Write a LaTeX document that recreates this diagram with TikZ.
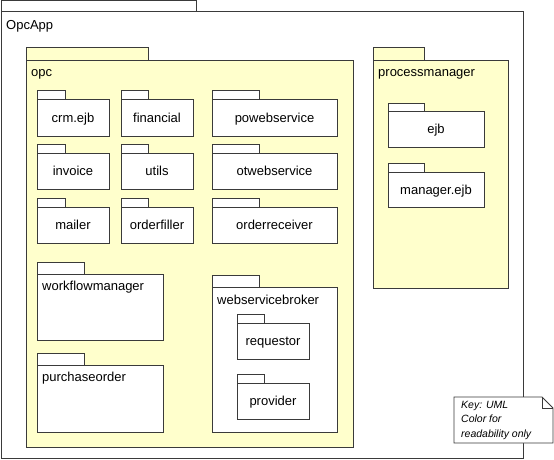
\documentclass[tikz,border=0pt]{standalone}
\usepackage{fontspec}
\setmainfont{Liberation Sans}
\definecolor{pkgyellow}{HTML}{FFFFCC}
\definecolor{linec}{HTML}{3A3A3A}
\newcommand\pkg[8]{%
  \node[pkgtab,fill=#8,minimum width={#4pt-#2pt},minimum height={#5pt-#3pt}] (#1tab) at (#2,#3) {};
  \node[pkgbody,fill=#8,minimum width={#6pt-#2pt},minimum height={#7pt-#5pt}] (#1) at (#2,#5) {};
}
\begin{document}
\begin{tikzpicture}[x=1pt,y=-1pt,
  pkgtab/.style={draw=linec,line width=1pt,inner sep=0pt,outer sep=0pt,anchor=north west},
  pkgbody/.style={draw=linec,line width=1pt,inner sep=0pt,outer sep=0pt,anchor=north west},
  lbl/.style={inner sep=0pt,anchor=base,font=\fontsize{13}{15}\selectfont},
  tl/.style={lbl,anchor=base west},
  shadowed/.style={preaction={fill=black!45,transform canvas={xshift=1.2pt,yshift=-1.2pt}}}
]
\useasboundingbox (0,0) rectangle (554,460);
% outer package
\pkg{opcapp}{1}{1}{196}{12}{523}{458}{white}
\node[tl] (opcapp-l) at ([xshift=5pt,yshift=-18pt]opcapp.north west) {OpcApp};
% opc package
\node[pkgtab,fill=pkgyellow,minimum width=122pt,minimum height=13pt] (opctab) at (26,48) {};
\node[pkgbody,fill=pkgyellow,shadowed,minimum width=327pt,minimum height=386pt] (opc) at (26,61) {};
\node[tl] (opc-l) at ([xshift=5pt,yshift=-15.5pt]opc.north west) {opc};
% processmanager package
\node[pkgtab,fill=pkgyellow,minimum width=51pt,minimum height=13pt] (pmtab) at (373,48) {};
\node[pkgbody,fill=pkgyellow,shadowed,minimum width=135pt,minimum height=227pt] (pm) at (373,61) {};
\node[tl] (pm-l) at ([xshift=5pt,yshift=-15.5pt]pm.north west) {processmanager};
% small packages in opc
\pkg{crmejb}{37}{90}{65}{99}{109}{136}{white}
\pkg{financial}{121}{90}{148}{99}{193}{136}{white}
\pkg{powebservice}{212}{90}{259}{99}{337}{136}{white}
\pkg{invoice}{37}{144}{65}{153}{109}{189}{white}
\pkg{utils}{121}{144}{148}{153}{193}{189}{white}
\pkg{otwebservice}{212}{144}{259}{153}{337}{189}{white}
\pkg{mailer}{37}{198}{65}{207}{109}{243}{white}
\pkg{orderfiller}{121}{198}{148}{207}{193}{243}{white}
\pkg{orderreceiver}{212}{198}{259}{207}{337}{243}{white}
\node[lbl] (crmejb-l) at ([yshift=-4.6pt]crmejb.center) {crm.ejb};
\node[lbl] (financial-l) at ([yshift=-4.6pt]financial.center) {financial};
\node[lbl] (powebservice-l) at ([yshift=-4.6pt]powebservice.center) {powebservice};
\node[lbl] (invoice-l) at ([yshift=-4.6pt]invoice.center) {invoice};
\node[lbl] (utils-l) at ([yshift=-4.6pt]utils.center) {utils};
\node[lbl] (otwebservice-l) at ([yshift=-4.6pt]otwebservice.center) {otwebservice};
\node[lbl] (mailer-l) at ([yshift=-4.6pt]mailer.center) {mailer};
\node[lbl] (orderfiller-l) at ([yshift=-4.6pt]orderfiller.center) {orderfiller};
\node[lbl] (orderreceiver-l) at ([yshift=-4.6pt]orderreceiver.center) {orderreceiver};
% larger packages
\pkg{wfm}{37}{262}{84}{274}{163}{340}{white}
\node[tl] (wfm-l) at ([xshift=5pt,yshift=-16pt]wfm.north west) {workflowmanager};
\pkg{po}{37}{353}{84}{365}{163}{432}{white}
\node[tl] (po-l) at ([xshift=5pt,yshift=-16.5pt]po.north west) {purchaseorder};
\pkg{wsb}{212}{275}{259}{287}{337}{432}{white}
\node[tl] (wsb-l) at ([xshift=5pt,yshift=-17.5pt]wsb.north west) {webservicebroker};
\pkg{requestor}{237}{314}{264}{323}{309}{359}{white}
\node[lbl] (requestor-l) at ([yshift=-4.6pt]requestor.center) {requestor};
\pkg{provider}{237}{374}{264}{383}{309}{419}{white}
\node[lbl] (provider-l) at ([yshift=-4.6pt]provider.center) {provider};
% processmanager contents
\pkg{ejb}{388}{103}{424}{111}{484}{147}{white}
\node[lbl] (ejb-l) at ([yshift=-4.6pt]ejb.center) {ejb};
\pkg{managerejb}{388}{163}{424}{172}{484}{207}{white}
\node[lbl] (managerejb-l) at ([yshift=-4.6pt]managerejb.center) {manager.ejb};
% note
\node[inner sep=0pt,outer sep=0pt,anchor=north west,minimum width=99pt,minimum height=46pt] (note) at (454,397) {};
\draw[linec,line width=0.8pt,fill=white] (note.north west) -- ([xshift=-11pt]note.north east) -- ([yshift=-11pt]note.north east) -- (note.south east) -- (note.south west) -- cycle;
\draw[linec,line width=0.8pt] ([xshift=-11pt]note.north east) -- ([xshift=-11pt,yshift=-11pt]note.north east) -- ([yshift=-11pt]note.north east);
\node[inner sep=0pt,anchor=north west,align=left,font=\fontsize{10.5}{14.3}\selectfont\itshape] (note-t) at (461,401) {Key: UML\\Color for\\readability only};
\end{tikzpicture}
\end{document}
